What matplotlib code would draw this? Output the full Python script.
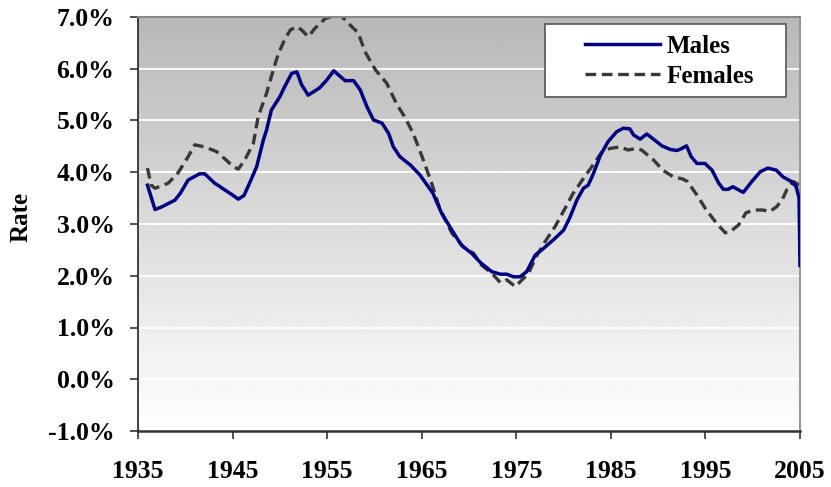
import numpy as np
import matplotlib
matplotlib.use("Agg")
from matplotlib import pyplot as plt
from matplotlib.patches import Rectangle
from matplotlib.ticker import FuncFormatter

# Males rate (%)
male_years = [1936.0, 1936.8, 1937.5, 1938.9, 1939.5, 1940.3, 1941.5, 1942.05, 1943.1, 1944.5,
              1945.0, 1945.6, 1946.2, 1946.8, 1947.55, 1948.25, 1948.6, 1949.1, 1950.0, 1950.5,
              1951.25, 1951.8, 1952.3, 1953.0, 1954.2, 1954.95, 1955.7, 1956.9, 1957.8, 1958.5,
              1959.2, 1959.9, 1960.8, 1961.5, 1962.0, 1962.7, 1963.8, 1964.8, 1965.7, 1966.2,
              1967.1, 1968.2, 1969.2, 1970.3, 1971.3, 1972.4, 1973.3, 1974.0, 1974.7, 1975.4,
              1976.1, 1977.0, 1977.7, 1978.9, 1980.0, 1980.7, 1981.4, 1982.1, 1982.6, 1983.1,
              1983.9, 1984.7, 1985.6, 1986.3, 1987.0, 1987.4, 1988.1, 1988.8, 1989.5, 1990.4,
              1991.3, 1992.0, 1992.5, 1993.0, 1993.5, 1994.1, 1994.95, 1995.7, 1996.4, 1996.9,
              1997.4, 1997.9, 1999.0, 1999.9, 2000.8, 2001.6, 2002.5, 2003.2, 2004.1, 2004.6,
              2004.9, 2005.0]
male_rate = [3.75, 3.28, 3.33, 3.46, 3.60, 3.85, 3.97, 3.97, 3.79, 3.62,
             3.56, 3.48, 3.55, 3.79, 4.11, 4.62, 4.82, 5.20, 5.46, 5.65,
             5.91, 5.94, 5.69, 5.49, 5.63, 5.78, 5.96, 5.77, 5.77, 5.59,
             5.27, 5.01, 4.95, 4.75, 4.49, 4.30, 4.14, 3.95, 3.72, 3.59,
             3.21, 2.88, 2.59, 2.43, 2.24, 2.08, 2.03, 2.03, 1.98, 1.98,
             2.08, 2.40, 2.50, 2.69, 2.88, 3.14, 3.46, 3.69, 3.75, 3.95,
             4.33, 4.59, 4.78, 4.85, 4.84, 4.72, 4.64, 4.74, 4.64, 4.51,
             4.44, 4.42, 4.46, 4.51, 4.30, 4.17, 4.17, 4.04, 3.79, 3.67,
             3.67, 3.72, 3.61, 3.82, 4.01, 4.08, 4.04, 3.91, 3.82, 3.72,
             3.50, 2.20]

# Females rate (%)
female_years = [1936.0, 1936.4, 1936.8, 1938.2, 1939.2, 1940.3, 1941.0, 1942.05, 1943.3, 1944.3,
                1945.0, 1945.6, 1946.3, 1947.2, 1947.7, 1948.6, 1949.1, 1949.8, 1950.4, 1951.1,
                1951.8, 1952.3, 1953.0, 1953.7, 1954.8, 1955.6, 1956.5, 1957.4, 1958.3, 1959.0,
                1960.1, 1961.3, 1962.4, 1963.2, 1964.1, 1965.0, 1966.05, 1966.9, 1968.2, 1969.4,
                1970.5, 1971.3, 1972.4, 1973.3, 1974.0, 1974.9, 1975.6, 1976.3, 1977.2, 1978.05,
                1979.1, 1980.15, 1981.0, 1982.1, 1983.0, 1984.0, 1984.9, 1986.0, 1986.8, 1987.7,
                1988.25, 1989.5, 1990.5, 1991.6, 1992.6, 1993.1, 1994.1, 1995.1, 1996.2, 1997.1,
                1997.6, 1998.5, 1999.3, 2000.2, 2001.1, 2001.8, 2002.5, 2003.1, 2003.6, 2004.3,
                2004.95, 2005.0]
female_rate = [4.08, 3.75, 3.69, 3.79, 3.98, 4.30, 4.53, 4.49, 4.40, 4.24,
               4.12, 4.06, 4.24, 4.56, 5.07, 5.53, 5.85, 6.27, 6.52, 6.75,
               6.81, 6.75, 6.62, 6.78, 6.97, 7.02, 7.02, 6.85, 6.69, 6.33,
               5.98, 5.72, 5.30, 5.07, 4.75, 4.32, 3.79, 3.30, 2.82, 2.56,
               2.43, 2.21, 2.05, 1.87, 1.92, 1.79, 1.92, 2.05, 2.40, 2.66,
               2.95, 3.30, 3.59, 3.88, 4.11, 4.38, 4.46, 4.49, 4.43, 4.46,
               4.43, 4.24, 4.04, 3.91, 3.87, 3.82, 3.56, 3.27, 3.01, 2.83,
               2.85, 2.98, 3.22, 3.27, 3.27, 3.24, 3.33, 3.46, 3.66, 3.82,
               3.75, 3.30]

x_ticks = [1935, 1945, 1955, 1965, 1975, 1985, 1995, 2005]
y_ticks = [-1, 0, 1, 2, 3, 4, 5, 6, 7]

plt.rcParams["font.family"] = ["Liberation Serif", "DejaVu Serif"]
plt.rcParams["font.weight"] = "bold"

fig = plt.figure(figsize=(8.31, 4.87), dpi=100)
ax = fig.add_axes([138 / 831, 56 / 487, 662 / 831, 414 / 487])

# grey (top) to white (bottom) background
grad = np.linspace(0.72, 1.0, 256).reshape(-1, 1)
ax.imshow(grad, extent=[0, 1, 0, 1], origin="upper", transform=ax.transAxes,
          aspect="auto", cmap="gray", vmin=0, vmax=1, zorder=0, interpolation="bilinear")

for v in y_ticks[1:-1]:
    ax.axhline(v, color="white", lw=1.3, zorder=1)

ax.plot(male_years, male_rate, color="#000080", lw=2.5, label="Males", zorder=3)
ax.plot(female_years, female_rate, color="#383838", lw=2.4, dashes=(3.2, 1.7),
        label="Females", zorder=2)

ax.set_xlim(1935, 2005)
ax.set_ylim(-1, 7)
ax.set_xticks(x_ticks)
ax.set_yticks(y_ticks)
ax.yaxis.set_major_formatter(FuncFormatter(lambda v, p: f"{v:.1f}%"))
ax.tick_params(axis="both", labelsize=18.5, direction="out", length=6, width=1.2, color="#333333")
ax.tick_params(axis="x", pad=15)
ax.tick_params(axis="y", pad=11)

ax.spines["left"].set_color("#333333")
ax.spines["left"].set_linewidth(1.3)
ax.spines["bottom"].set_color("#333333")
ax.spines["bottom"].set_linewidth(1.8)
ax.spines["top"].set_color("#888888")
ax.spines["top"].set_linewidth(1.5)
ax.spines["right"].set_color("#999999")
ax.spines["right"].set_linewidth(1.5)

fig.text(21 / 831, 1 - 217 / 487, "Rate", rotation=90, fontsize=18,
         fontweight="bold", ha="center", va="center")

# legend box drawn separately so its size matches
ax.add_patch(Rectangle((0.615, 0.807), 0.364, 0.176, transform=ax.transAxes,
                       facecolor="white", edgecolor="#555555", lw=1.2, zorder=4))
leg = ax.legend(loc="center left", bbox_to_anchor=(0.675, 0.893), fontsize=18,
                frameon=False, handlelength=3.0, handletextpad=0.28, borderpad=0,
                labelspacing=0.3, borderaxespad=0)
leg.set_zorder(5)

fig.savefig("out.png", dpi=100)
